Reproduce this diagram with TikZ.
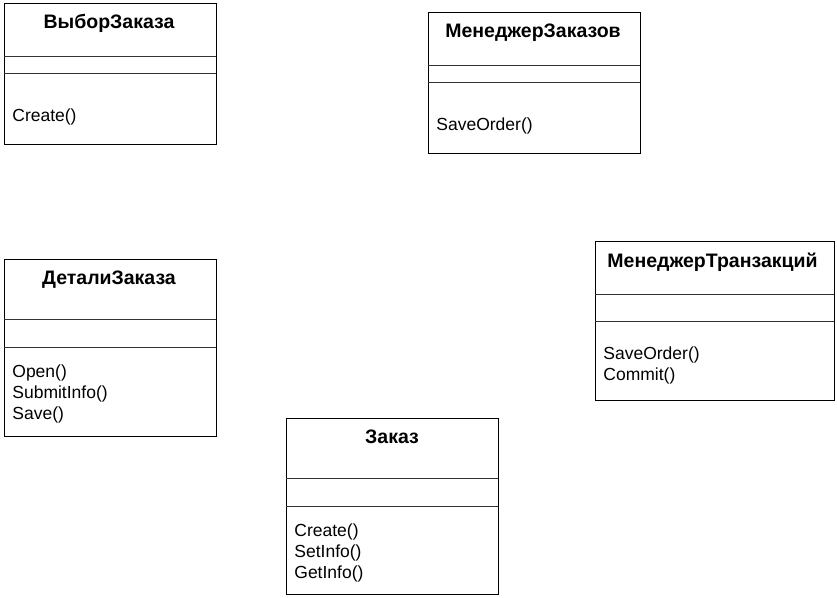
\documentclass[tikz,border=0pt]{standalone}
\usepackage{fontspec}
\setmainfont{Liberation Sans}

\begin{document}
\begin{tikzpicture}[x=1pt,y=-1pt,line width=0.8pt]
	\tikzstyle{box}=[draw=black,fill=white];
	\tikzstyle{sep}=[draw=black!80];
	\tikzstyle{title}=[anchor=base,inner sep=0pt,font=\fontsize{19.5}{23}\selectfont\bfseries];
	\tikzstyle{op}=[anchor=base west,inner sep=0pt,font=\fontsize{17.5}{21}\selectfont];

	\useasboundingbox (0,0) rectangle (837,597);

	% ВыборЗаказа
	\draw[box] (4,3) rectangle (216,144);
	\draw[sep] (4,56) -- (216,56);
	\draw[sep] (4,73) -- (216,73);
	\node[title] (vybor) at (109,28.5) {ВыборЗаказа};
	\node[op] (vybor1) at (12,121) {Create()};

	% МенеджерЗаказов
	\draw[box] (428,12) rectangle (640,153);
	\draw[sep] (428,65) -- (640,65);
	\draw[sep] (428,82) -- (640,82);
	\node[title] (menz) at (533,37.5) {МенеджерЗаказов};
	\node[op] (menz1) at (436,130) {SaveOrder()};

	% ДеталиЗаказа
	\draw[box] (4,259) rectangle (216,436);
	\draw[sep] (4,319) -- (216,319);
	\draw[sep] (4,347) -- (216,347);
	\node[title] (detali) at (109,284.5) {ДеталиЗаказа};
	\node[op] (detali1) at (12,377) {Open()};
	\node[op] (detali2) at (12,398) {SubmitInfo()};
	\node[op] (detali3) at (12,419) {Save()};

	% МенеджерТранзакций
	\draw[box] (595,241) rectangle (834,400);
	\draw[sep] (595,294) -- (834,294);
	\draw[sep] (595,321) -- (834,321);
	\node[title] (ment) at (712.5,267.5) {МенеджерТранзакций};
	\node[op] (ment1) at (603,359) {SaveOrder()};
	\node[op] (ment2) at (603,380) {Commit()};

	% Заказ
	\draw[box] (286,418) rectangle (498,594);
	\draw[sep] (286,478) -- (498,478);
	\draw[sep] (286,506) -- (498,506);
	\node[title] (zakaz) at (392,443.5) {Заказ};
	\node[op] (zakaz1) at (294,536) {Create()};
	\node[op] (zakaz2) at (294,557) {SetInfo()};
	\node[op] (zakaz3) at (294,578) {GetInfo()};
\end{tikzpicture}
\end{document}
